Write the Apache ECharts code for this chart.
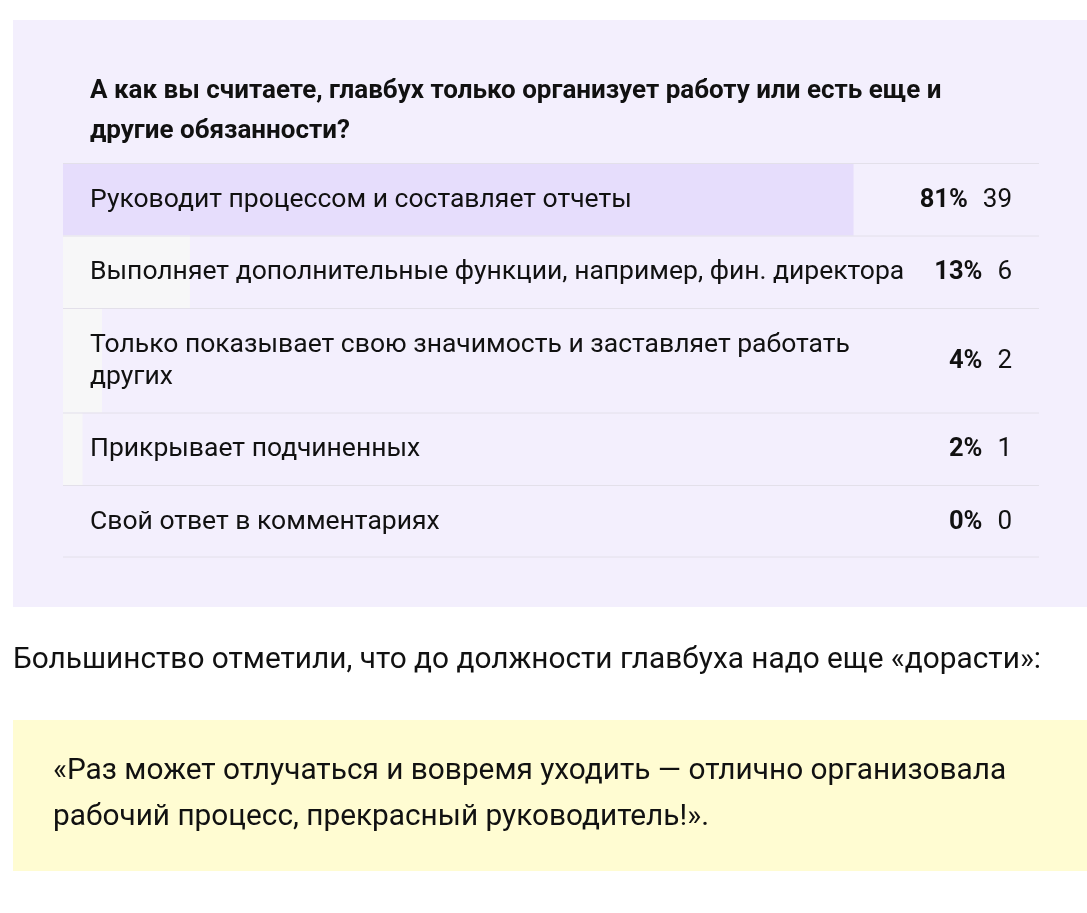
<!DOCTYPE html>
<html lang="ru">
<head>
    <meta charset="UTF-8">
    <title>Опрос</title>
    <style>
        html, body {margin: 0; padding: 0; background: #fff;}
    </style>
</head>
<body>
<div id="poll" style="width: 1087px;height: 913px;"></div>
<script src="https://cdn.jsdelivr.net/npm/echarts@6/dist/echarts.min.js"></script>
<script>
    var question = 'А как вы считаете, главбух только организует работу или есть еще и\nдругие обязанности?';
    var answers = [
        'Руководит процессом и составляет отчеты',
        'Выполняет дополнительные функции, например, фин. директора',
        'Только показывает свою значимость и заставляет работать других',
        'Прикрывает подчиненных',
        'Свой ответ в комментариях'
    ];
    var percents = [81, 13, 4, 2, 0];
    var votes = [39, 6, 2, 1, 0];
    var afterText = 'Большинство отметили, что до должности главбуха надо еще «дорасти»:';
    var quoteText = '«Раз может отлучаться и вовремя уходить — отлично организовала\nрабочий процесс, прекрасный руководитель!».';

    var labelFont = '26.5px Roboto';
    var labelWidth = 830;

    // перенос строк по словам
    var ctx = document.createElement('canvas').getContext('2d');
    function wrap(text) {
        ctx.font = labelFont;
        var words = text.split(' ');
        var lines = [], cur = '';
        for (var i = 0; i < words.length; i++) {
            var test = cur ? cur + ' ' + words[i] : words[i];
            if (cur && ctx.measureText(test).width > labelWidth) {
                lines.push(cur);
                cur = words[i];
            } else {
                cur = test;
            }
        }
        lines.push(cur);
        return lines;
    }

    var wrapped = answers.map(wrap);
    var rowH = [], rowTop = [], total = 0;
    for (var i = 0; i < wrapped.length; i++) {
        rowTop.push(total);
        rowH.push(40.5 + 32 * wrapped[i].length);
        total += rowH[i];
    }

    var chart = echarts.init(document.getElementById('poll'));
    var option = {
        backgroundColor: '#ffffff',
        animation: false,
        grid: {left: 63, right: 48, top: 163, height: total},
        xAxis: {type: 'value', min: 0, max: 100, show: false},
        yAxis: {type: 'value', min: 0, max: total, inverse: true, show: false},
        graphic: [
            {type: 'rect', z: -10, shape: {x: 13, y: 20, width: 1074, height: 587}, style: {fill: '#f3effd'}},
            {type: 'text', z: -5, x: 90, y: 111, style: {
                text: question, fill: '#111', font: 'bold 26px Roboto', lineHeight: 40, verticalAlign: 'middle'
            }},
            {type: 'text', x: 13, y: 661, style: {
                text: afterText, fill: '#111', font: '29.8px Roboto', verticalAlign: 'middle'
            }},
            {type: 'rect', z: -10, shape: {x: 13, y: 720, width: 1074, height: 151}, style: {fill: '#fffcd2'}},
            {type: 'text', x: 53, y: 795, style: {
                text: quoteText, fill: '#111', font: '29.8px Roboto', lineHeight: 46, verticalAlign: 'middle'
            }}
        ],
        series: [{
            type: 'custom',
            data: percents.map(function (p, i) { return [i, p, votes[i]]; }),
            renderItem: function (params, api) {
                var i = params.dataIndex;
                var top = api.coord([0, rowTop[i]]);
                var bar = api.coord([api.value(1), rowTop[i] + rowH[i]]);
                var full = api.coord([100, rowTop[i] + rowH[i]]);
                var mid = (top[1] + bar[1]) / 2 + 1;
                var children = [
                    {type: 'rect', shape: {x: top[0], y: top[1], width: bar[0] - top[0], height: bar[1] - top[1]},
                        style: {fill: i === 0 ? '#e6ddfc' : '#f7f7f8'}},
                    {type: 'line', shape: {x1: top[0], y1: top[1] + 0.5, x2: full[0], y2: top[1] + 0.5},
                        style: {stroke: '#e3e0ea', lineWidth: 1}},
                    {type: 'text', x: top[0] + 27, y: mid, style: {
                        text: wrapped[i].join('\n'), font: labelFont, fill: '#111', lineHeight: 32, verticalAlign: 'middle'
                    }},
                    {type: 'text', x: full[0] - 27, y: mid, style: {
                        text: '{p|' + api.value(1) + '%}{c|' + api.value(2) + '}',
                        align: 'right', verticalAlign: 'middle',
                        rich: {
                            p: {font: 'bold 25.5px Roboto', fill: '#111'},
                            c: {font: '26px Roboto', fill: '#111', padding: [0, 0, 0, 15]}
                        }
                    }}
                ];
                if (i === answers.length - 1) {
                    children.push({type: 'line', shape: {x1: top[0], y1: full[1] - 0.5, x2: full[0], y2: full[1] - 0.5},
                        style: {stroke: '#e3e0ea', lineWidth: 1}});
                }
                return {type: 'group', children: children};
            }
        }]
    };
    chart.setOption(option);
</script>
</body>
</html>
